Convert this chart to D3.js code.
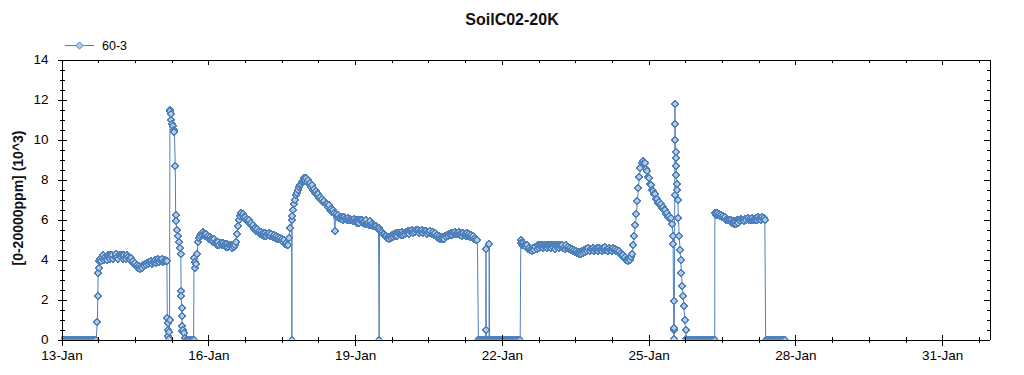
<!DOCTYPE html>
<html><head><meta charset="utf-8">
<script src="https://cdn.jsdelivr.net/npm/d3@7"></script>
<style>body{margin:0;background:#fff}svg{display:block}</style>
</head><body>
<svg id="c" width="1024" height="375"></svg>
<script>
// ---- data: hours since 13-Jan 00:00, values in 10^3 ppm ----
const chartTitle = "SoilC02-20K";
const seriesName = "60-3";
const yLabel = "[0-20000ppm] (10^3)";
const xTickDays = [0, 3, 6, 9, 12, 15, 18];
const xTickLabels = ["13-Jan", "16-Jan", "19-Jan", "22-Jan", "25-Jan", "28-Jan", "31-Jan"];
const yTicks = [0, 2, 4, 6, 8, 10, 12, 14];
const STEP = 0.5; // logging interval (hours) of the regular runs

// regular runs: start hour + readings every STEP hours
const off1Start = 0;
const off1 = [0,0,0,0,0,0,0,0,0,0,0,0,0,0,0,0,0,0,0,0,0,0,0,0,0,0,0,0,0,0,0,0,0,0,0];
const runAStart = 19;
const runA = [4.05,3.95,4.15,4.2,4.0,4.15,4.05,4.0,4.2,4.25,4.05,4.2,4.25,4.05,4.15,4.3,4.15,4.05,4.2,4.25,4.15,4.2,4.05,4.25,4.1,4.05,4.25,4.15,4.05,4.0,4.1,3.9,3.95,3.8,3.85,3.7,3.75,3.6,3.7,3.55,3.65,3.6,3.75,3.7,3.8,3.75,3.85,3.8,3.9,3.85,3.95,3.8,3.9,3.95,4.0,3.85,3.95,4.05,3.9,4.0,4.0,4.05,3.9,3.95,4.0,3.95];
const runBStart = 67;
const runB = [4.9,5.1,5.2,5.3,5.25,5.4,5.3,5.2,5.3,5.15,5.2,5.05,5.15,5.0,5.05,4.9,5.0,4.85,4.9,4.75,4.9,4.75,4.85,4.7,4.85,4.7,4.8,4.65,4.8,4.65,4.75,4.7,4.75,4.6,4.7,4.65,4.75,4.9,5.3,5.7,6.0,6.2,6.35,6.25,6.3,6.15,6.15,6.0,6.05,5.9,5.95,5.8,5.85,5.7,5.75,5.55,5.6,5.45,5.55,5.4,5.45,5.3,5.4,5.25,5.35,5.2,5.35,5.2,5.3,5.25,5.35,5.2,5.3,5.15,5.25,5.1,5.2,5.05,5.15,5.0,5.1,4.95,5.05,4.9,4.95,4.8,4.85,4.7,4.7];
const runCStart = 114;
const runC = [6.8,7.0,7.2,7.35,7.5,7.65,7.75,7.8,7.9,7.95,8.05,7.95,8.05,7.9,8.0,7.8,7.85,7.65,7.7,7.5,7.55,7.35,7.4,7.25,7.3,7.1,7.15,7.0,7.05,6.9,6.95,6.75,6.8,6.65,6.7,6.5,6.55,6.4,6.45,6.35];
const runDStart = 134.5;
const runD = [6.3,6.15,6.25,6.1,6.15,6.05,6.15,6.0,6.15,6.05,6.05,5.95,6.1,6.0,6.05,5.95,6.0,5.9,6.05,5.9,5.95,5.85,6.0,5.85,6.0,5.9,5.95,5.85,5.9,5.8,5.95,5.8,5.85,5.75,5.9,5.75,5.8,5.7,5.75,5.65,5.7,5.6,5.6];
const runEStart = 156;
const runE = [5.5,5.4,5.4,5.3,5.3,5.2,5.2,5.1,5.15,5.05,5.15,5.1,5.25,5.15,5.3,5.2,5.35,5.2,5.35,5.3,5.35,5.25,5.4,5.25,5.35,5.3,5.4,5.35,5.45,5.3,5.45,5.4,5.5,5.35,5.45,5.4,5.5,5.45,5.5,5.35,5.45,5.4,5.5,5.35,5.45,5.4,5.45,5.3,5.4,5.35,5.45,5.3,5.4,5.25,5.35,5.2,5.25,5.1,5.2,5.05,5.15,5.0,5.15,5.05,5.2,5.15,5.25,5.2,5.3,5.25,5.35,5.25,5.35,5.3,5.4,5.3,5.35,5.3,5.4,5.25,5.35,5.2,5.35,5.25,5.3,5.2,5.35,5.2,5.3,5.15,5.25,5.15,5.2,5.05,5.1,4.95,4.95];
const off2Start = 210.5;
const off2 = [0,0,0,0,0,0,0,0,0,0,0,0,0,0,0,0,0,0,0,0,0,0,0,0,0,0,0,0,0,0];
const runFStart = 225.5;
const runF = [4.85,4.75,4.85,4.7,4.75,4.65,4.7,4.55,4.6,4.5,4.55,4.45,4.6,4.5,4.65,4.55,4.7,4.6,4.75,4.65,4.7,4.6,4.75,4.65,4.7,4.6,4.75,4.65,4.7,4.6,4.75,4.65,4.7,4.55,4.7,4.65,4.75,4.6,4.7,4.65,4.75,4.6,4.65,4.55,4.7,4.6,4.65,4.55,4.6,4.5,4.55,4.45,4.5,4.4,4.45,4.35,4.4,4.3,4.4,4.3,4.45,4.35,4.5,4.4,4.55,4.45,4.6,4.45,4.55,4.5,4.6,4.45,4.55,4.5,4.6,4.45,4.6,4.5,4.55,4.45,4.6,4.5,4.65,4.5,4.55,4.45,4.6,4.5,4.55,4.45,4.6,4.5,4.55,4.45,4.5,4.4,4.45,4.3,4.35,4.2,4.25,4.1,4.15,4.0,4.05,3.95,4.05,4.0,4.15,4.3,4.7,5.2,5.75,6.3,6.95,7.6,8.15,8.6,8.8,8.95,8.8,8.8,8.55,8.45,8.15,8.05,7.8,7.75,7.5,7.45,7.25,7.25,7.05,7.05,6.85,6.9,6.7,6.75,6.6,6.65,6.45,6.5,6.3,6.35,6.15,6.2,6.05,6.1];
const off3Start = 307;
const off3 = [0,0,0,0,0,0,0,0,0,0,0,0,0,0,0,0,0,0,0,0,0,0,0,0,0,0,0];
const runGStart = 320.5;
const runG = [6.35,6.25,6.35,6.25,6.3,6.2,6.25,6.15,6.2,6.1,6.15,6.0,6.05,5.95,6.0,5.9,5.95,5.85,5.9,5.8,5.9,5.8,5.95,5.85,6.0,5.9,6.05,5.95,6.0,5.9,6.05,5.95,6.1,6.0,6.05,5.95,6.1,6.0,6.05,5.95,6.1,6.0,6.15,6.05,6.1,6.0,6.15,6.05,6.1,5.95];
const off4Start = 345.5;
const off4 = [0,0,0,0,0,0,0,0,0,0,0,0,0,0,0,0,0,0,0,0];

// irregular readings around switch-on / spikes: [hour, value]
const rise1 = [[17.6,0.9],[17.8,2.2],[18.0,3.3],[18.2,3.6],[18.5,3.95]];
const spike1 = [[51.7,3.95],[51.9,1.1],[52.0,0.8],[52.1,0.5],[52.3,0.2],[52.6,0.05],[52.9,0.4],[53.0,1.0],[53.2,11.5],[53.4,11.45],[53.6,11.3],[53.9,11.0],[54.2,10.8],[54.6,10.7],[55.0,10.5],[55.4,10.4],[55.8,8.7],[56.0,6.25],[56.2,5.9],[56.5,5.5],[57.0,5.2],[57.5,4.9],[58.0,4.6],[58.5,4.3],[58.7,2.4],[58.8,2.2],[58.9,1.6],[59.0,1.2],[59.1,0.7],[59.3,0.45],[59.6,0.5],[60.0,0.3],[60.5,0.1],[61,0],[61.5,0],[62,0],[62.5,0],[63,0],[63.5,0],[64,0],[64.5,0],[64.8,0],[65.0,4.1],[65.3,3.9],[65.7,3.6],[66.2,3.8],[66.6,4.3]];
const dropout1 = [[111.6,5.1],[112.2,5.6],[112.9,6.0],[113.0,0],[113.1,6.2],[113.5,6.5]];
const dropout2 = [[134.1,5.45]];
const dropout3 = [[155.8,0]];
const blips = [[204.5,0],[205,0],[205.5,0],[206,0],[206.5,0],[207,0],[207.5,0],[208,0],[208.1,0.5],[208.2,4.55],[208.4,0],[209,0],[209.5,0],[209.7,0],[209.8,4.8],[210,0]];
const rise2 = [[225.3,4.95]];
const spike2 = [[299.6,5.8],[299.9,5.2],[300.0,4.8],[300.2,1.95],[300.3,0.5],[300.4,0.05],[300.6,0.6],[300.8,7.2],[300.9,11.8],[301.0,10.75],[301.1,10.0],[301.2,9.4],[301.3,9.1],[301.4,8.7],[301.6,8.25],[301.8,7.8],[302.0,7.5],[302.3,7.0],[302.6,6.1],[303.0,5.2],[303.4,4.5],[303.7,4.0],[304.1,3.3],[304.5,2.7],[304.9,2.2],[305.3,1.7],[305.7,1.0],[306.1,0.5],[306.4,0.05]];
const rise3 = [[320.4,0]];
const drop4 = [[345.4,0]];

const reg = (t0, vals) => vals.map((v, i) => [t0 + i * STEP, v]);
const series = [].concat(
  reg(off1Start, off1), rise1, reg(runAStart, runA), spike1, reg(runBStart, runB), dropout1,
  reg(runCStart, runC), dropout2, reg(runDStart, runD), dropout3, reg(runEStart, runE), blips,
  reg(off2Start, off2), rise2, reg(runFStart, runF), spike2, reg(off3Start, off3), rise3,
  reg(runGStart, runG), drop4, reg(off4Start, off4)
).sort((a, b) => a[0] - b[0]);

// ---- drawing ----
const start = new Date(2021, 0, 13);
const hrs = h => new Date(start.getTime() + h * 3600e3);
const L = 61.5, R = 989.5, T = 59.5, B = 339.5;
const x = d3.scaleTime().domain([start, hrs(455.2)]).range([L, R]);
const y = d3.scaleLinear().domain([0, 14]).range([B, T]);

const svg = d3.select("#c");
const font = "'Liberation Sans', Arial, sans-serif";
const lineColor = "#4f81bd", fillColor = "#b7c9dc";

svg.append("text").attr("x", 512).attr("y", 25).attr("text-anchor", "middle")
  .attr("font-family", font).attr("font-weight", "bold").attr("font-size", 16).attr("fill", "#111").text(chartTitle);

svg.append("defs").append("clipPath").attr("id", "plot").append("rect")
  .attr("x", L).attr("y", T).attr("width", R - L).attr("height", B - T);

const g = svg.append("g").attr("clip-path", "url(#plot)");
const line = d3.line().x(d => x(hrs(d[0]))).y(d => y(d[1]));
g.append("path").datum(series).attr("d", line).attr("fill", "none").attr("stroke", lineColor).attr("stroke-width", 1);
const diamond = "M0,-3.6L3.6,0L0,3.6L-3.6,0Z";
g.selectAll("path.m").data(series).join("path").attr("class", "m")
  .attr("d", diamond)
  .attr("transform", d => `translate(${Math.round(x(hrs(d[0])))},${Math.round(y(d[1]))})`)
  .attr("fill", fillColor).attr("stroke", lineColor).attr("stroke-width", 1)
  .attr("shape-rendering", "crispEdges");

// ticks
const majorX = xTickDays.map(d => hrs(d * 24));
const minorX = d3.range(0, 455, 18).filter(h => h % 72 !== 0).map(hrs);
const minorY = d3.range(0, 14.01, 0.5).filter(v => v % 2 !== 0);
function style(sel) {
  sel.selectAll("line").attr("stroke", "#000").attr("shape-rendering", "crispEdges");
  sel.selectAll("path.domain").attr("stroke", "#000").attr("shape-rendering", "crispEdges");
  sel.selectAll("text").attr("font-family", font).attr("font-size", 13.5).attr("fill", "#000");
}
function ax(gen, tx, ty, showLabels) {
  const a = svg.append("g").attr("transform", `translate(${tx},${ty})`).call(gen);
  if (!showLabels) a.selectAll("text").remove();
  style(a);
  return a;
}
// bottom
ax(d3.axisBottom(x).tickValues(majorX).tickFormat((d, i) => xTickLabels[i]).tickSize(6).tickSizeOuter(0).tickPadding(5), 0, B, true);
ax(d3.axisTop(x).tickValues(majorX).tickSize(5).tickSizeOuter(0).tickFormat(""), 0, B, false);
ax(d3.axisBottom(x).tickValues(minorX).tickSize(3).tickSizeOuter(0).tickFormat(""), 0, B, false);
ax(d3.axisTop(x).tickValues(minorX).tickSize(3).tickSizeOuter(0).tickFormat(""), 0, B, false);
// top
ax(d3.axisBottom(x).tickValues(majorX).tickSize(5).tickSizeOuter(0).tickFormat(""), 0, T, false);
ax(d3.axisBottom(x).tickValues(minorX).tickSize(3).tickSizeOuter(0).tickFormat(""), 0, T, false);
// left
ax(d3.axisLeft(y).tickValues(yTicks).tickSize(4).tickSizeOuter(0).tickPadding(9), L, 0, true);
ax(d3.axisRight(y).tickValues(yTicks).tickSize(5).tickSizeOuter(0).tickFormat(""), L, 0, false);
ax(d3.axisLeft(y).tickValues(minorY).tickSize(2).tickSizeOuter(0).tickFormat(""), L, 0, false);
ax(d3.axisRight(y).tickValues(minorY).tickSize(3).tickSizeOuter(0).tickFormat(""), L, 0, false);
// right
ax(d3.axisLeft(y).tickValues(yTicks).tickSize(6).tickSizeOuter(0).tickFormat(""), R, 0, false);
ax(d3.axisLeft(y).tickValues(minorY).tickSize(3).tickSizeOuter(0).tickFormat(""), R, 0, false);

// y label
svg.append("text").attr("transform", "translate(23,198) rotate(-90)").attr("text-anchor", "middle")
  .attr("font-family", font).attr("font-weight", "bold").attr("font-size", 14).attr("fill", "#111").text(yLabel);

// legend
const lg = svg.append("g");
lg.append("line").attr("x1", 65).attr("x2", 94).attr("y1", 45.5).attr("y2", 45.5).attr("stroke", lineColor);
lg.append("path").attr("d", diamond).attr("transform", "translate(79.5,45.5)").attr("fill", fillColor).attr("stroke", lineColor);
lg.append("text").attr("x", 102).attr("y", 50).attr("font-family", font).attr("font-size", 12.5).attr("fill", "#000").text(seriesName);
</script>
</body></html>
